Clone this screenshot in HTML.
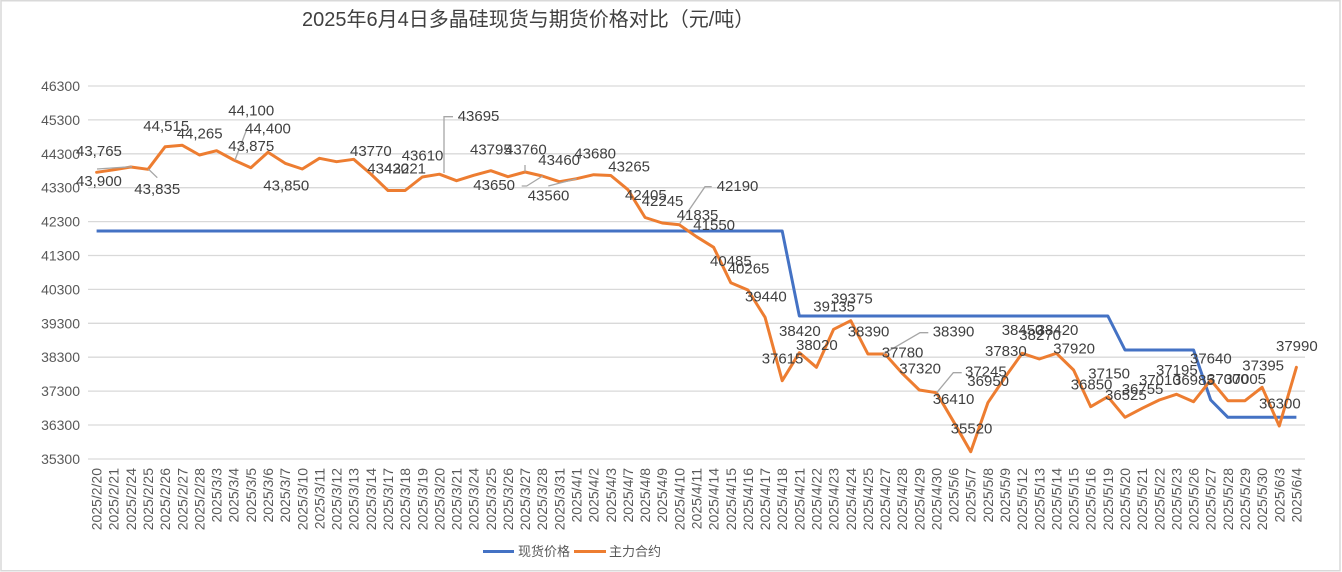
<!DOCTYPE html>
<html>
<head>
<meta charset="utf-8">
<style>
html,body{margin:0;padding:0;background:#fff;}
body{width:1342px;height:572px;overflow:hidden;}
svg{display:block;}
.lbl{font-family:"Liberation Sans","Noto Sans CJK SC",sans-serif;font-size:15px;fill:#404040;}
.yl{font-family:"Liberation Sans",sans-serif;font-size:14px;fill:#595959;}
.xl{font-family:"Liberation Sans",sans-serif;font-size:14px;fill:#595959;}
.ttl{font-family:"Liberation Sans","Noto Sans CJK SC",sans-serif;font-size:20px;fill:#404040;}
.lg{font-family:"Liberation Sans","Noto Sans CJK SC",sans-serif;font-size:13px;fill:#595959;}
</style>
</head>
<body>
<svg width="1342" height="572" viewBox="0 0 1342 572" xmlns="http://www.w3.org/2000/svg">
<rect x="1" y="0.75" width="1339" height="570" fill="#fff" stroke="#d9d9d9" stroke-width="1.5"/>
<text class="ttl" x="302" y="26">2025年6月4日多晶硅现货与期货价格对比（元/吨）</text>

<!-- gridlines -->
<g stroke="#d9d9d9" stroke-width="1.3">
<line x1="88" x2="1305" y1="86" y2="86"/>
<line x1="88" x2="1305" y1="119.9" y2="119.9"/>
<line x1="88" x2="1305" y1="153.8" y2="153.8"/>
<line x1="88" x2="1305" y1="187.7" y2="187.7"/>
<line x1="88" x2="1305" y1="221.6" y2="221.6"/>
<line x1="88" x2="1305" y1="255.5" y2="255.5"/>
<line x1="88" x2="1305" y1="289.4" y2="289.4"/>
<line x1="88" x2="1305" y1="323.3" y2="323.3"/>
<line x1="88" x2="1305" y1="357.2" y2="357.2"/>
<line x1="88" x2="1305" y1="391.1" y2="391.1"/>
<line x1="88" x2="1305" y1="425" y2="425"/>
<line x1="88" x2="1305" y1="459" y2="459"/>
</g>
<g class="yl" text-anchor="end">
<text x="80" y="91">46300</text>
<text x="80" y="124.9">45300</text>
<text x="80" y="158.8">44300</text>
<text x="80" y="192.7">43300</text>
<text x="80" y="226.6">42300</text>
<text x="80" y="260.5">41300</text>
<text x="80" y="294.4">40300</text>
<text x="80" y="328.3">39300</text>
<text x="80" y="362.2">38300</text>
<text x="80" y="396.1">37300</text>
<text x="80" y="430">36300</text>
<text x="80" y="464">35300</text>
</g>

<!-- x labels -->
<g class="xl" text-anchor="end">
<text transform="translate(101.6,468) rotate(-90)">2025/2/20</text>
<text transform="translate(118.74,468) rotate(-90)">2025/2/21</text>
<text transform="translate(135.88,468) rotate(-90)">2025/2/24</text>
<text transform="translate(153.02,468) rotate(-90)">2025/2/25</text>
<text transform="translate(170.16,468) rotate(-90)">2025/2/26</text>
<text transform="translate(187.3,468) rotate(-90)">2025/2/27</text>
<text transform="translate(204.44,468) rotate(-90)">2025/2/28</text>
<text transform="translate(221.58,468) rotate(-90)">2025/3/3</text>
<text transform="translate(238.72,468) rotate(-90)">2025/3/4</text>
<text transform="translate(255.86,468) rotate(-90)">2025/3/5</text>
<text transform="translate(273,468) rotate(-90)">2025/3/6</text>
<text transform="translate(290.14,468) rotate(-90)">2025/3/7</text>
<text transform="translate(307.28,468) rotate(-90)">2025/3/10</text>
<text transform="translate(324.42,468) rotate(-90)">2025/3/11</text>
<text transform="translate(341.56,468) rotate(-90)">2025/3/12</text>
<text transform="translate(358.7,468) rotate(-90)">2025/3/13</text>
<text transform="translate(375.84,468) rotate(-90)">2025/3/14</text>
<text transform="translate(392.98,468) rotate(-90)">2025/3/17</text>
<text transform="translate(410.12,468) rotate(-90)">2025/3/18</text>
<text transform="translate(427.26,468) rotate(-90)">2025/3/19</text>
<text transform="translate(444.4,468) rotate(-90)">2025/3/20</text>
<text transform="translate(461.54,468) rotate(-90)">2025/3/21</text>
<text transform="translate(478.68,468) rotate(-90)">2025/3/24</text>
<text transform="translate(495.82,468) rotate(-90)">2025/3/25</text>
<text transform="translate(512.96,468) rotate(-90)">2025/3/26</text>
<text transform="translate(530.1,468) rotate(-90)">2025/3/27</text>
<text transform="translate(547.24,468) rotate(-90)">2025/3/28</text>
<text transform="translate(564.38,468) rotate(-90)">2025/3/31</text>
<text transform="translate(581.52,468) rotate(-90)">2025/4/1</text>
<text transform="translate(598.66,468) rotate(-90)">2025/4/2</text>
<text transform="translate(615.8,468) rotate(-90)">2025/4/3</text>
<text transform="translate(632.94,468) rotate(-90)">2025/4/7</text>
<text transform="translate(650.08,468) rotate(-90)">2025/4/8</text>
<text transform="translate(667.22,468) rotate(-90)">2025/4/9</text>
<text transform="translate(684.36,468) rotate(-90)">2025/4/10</text>
<text transform="translate(701.5,468) rotate(-90)">2025/4/11</text>
<text transform="translate(718.64,468) rotate(-90)">2025/4/14</text>
<text transform="translate(735.78,468) rotate(-90)">2025/4/15</text>
<text transform="translate(752.92,468) rotate(-90)">2025/4/16</text>
<text transform="translate(770.06,468) rotate(-90)">2025/4/17</text>
<text transform="translate(787.2,468) rotate(-90)">2025/4/18</text>
<text transform="translate(804.34,468) rotate(-90)">2025/4/21</text>
<text transform="translate(821.48,468) rotate(-90)">2025/4/22</text>
<text transform="translate(838.62,468) rotate(-90)">2025/4/23</text>
<text transform="translate(855.76,468) rotate(-90)">2025/4/24</text>
<text transform="translate(872.9,468) rotate(-90)">2025/4/25</text>
<text transform="translate(890.04,468) rotate(-90)">2025/4/27</text>
<text transform="translate(907.18,468) rotate(-90)">2025/4/28</text>
<text transform="translate(924.32,468) rotate(-90)">2025/4/29</text>
<text transform="translate(941.46,468) rotate(-90)">2025/4/30</text>
<text transform="translate(958.6,468) rotate(-90)">2025/5/6</text>
<text transform="translate(975.74,468) rotate(-90)">2025/5/7</text>
<text transform="translate(992.88,468) rotate(-90)">2025/5/8</text>
<text transform="translate(1010.02,468) rotate(-90)">2025/5/9</text>
<text transform="translate(1027.16,468) rotate(-90)">2025/5/12</text>
<text transform="translate(1044.3,468) rotate(-90)">2025/5/13</text>
<text transform="translate(1061.44,468) rotate(-90)">2025/5/14</text>
<text transform="translate(1078.58,468) rotate(-90)">2025/5/15</text>
<text transform="translate(1095.72,468) rotate(-90)">2025/5/16</text>
<text transform="translate(1112.86,468) rotate(-90)">2025/5/19</text>
<text transform="translate(1130,468) rotate(-90)">2025/5/20</text>
<text transform="translate(1147.14,468) rotate(-90)">2025/5/21</text>
<text transform="translate(1164.28,468) rotate(-90)">2025/5/22</text>
<text transform="translate(1181.42,468) rotate(-90)">2025/5/23</text>
<text transform="translate(1198.56,468) rotate(-90)">2025/5/26</text>
<text transform="translate(1215.7,468) rotate(-90)">2025/5/27</text>
<text transform="translate(1232.84,468) rotate(-90)">2025/5/28</text>
<text transform="translate(1249.98,468) rotate(-90)">2025/5/29</text>
<text transform="translate(1267.12,468) rotate(-90)">2025/5/30</text>
<text transform="translate(1284.26,468) rotate(-90)">2025/6/3</text>
<text transform="translate(1301.4,468) rotate(-90)">2025/6/4</text>
</g>

<!-- series -->
<polyline fill="none" stroke="#4472C4" stroke-width="3" stroke-linejoin="round" points="96.6,231 782.2,231 799.34,316 1107.86,316 1125,350 1193.56,350 1210.7,400 1227.84,417.3 1296.4,417.3"/>
<polyline fill="none" stroke="#ED7D31" stroke-width="3" stroke-linejoin="round" stroke-linecap="round" points="96.6,172.3 113.74,169.8 130.88,167 148.02,169.3 165.16,146.7 182.3,145.3 199.44,155 216.58,150.7 233.72,160 250.86,167.7 268,152.3 285.14,163.3 302.28,169 319.42,158.3 336.56,161.7 353.7,159.3 370.84,174 387.98,190.5 405.12,190.5 422.26,177 439.4,174.2 456.54,180.7 473.68,175.3 490.82,170.7 507.96,176.7 525.1,172 542.24,176 559.38,181.7 576.52,178.7 593.66,174.7 610.8,175.5 627.94,189.7 645.08,217.5 662.22,223 679.36,224.8 696.5,236.7 713.64,247.3 730.78,282.7 747.92,290 765.06,317.3 782.2,380.7 799.34,352.7 816.48,367.3 833.62,329.3 850.76,320.7 867.9,354 885.04,354 902.18,373.3 919.32,390 936.46,392.7 953.6,421.7 970.74,451.7 987.88,402.7 1005.02,377.3 1022.16,353.3 1039.3,359 1056.44,353.3 1073.58,370 1090.72,406.7 1107.86,396.7 1125,417.3 1142.14,408.3 1159.28,400 1176.42,394.3 1193.56,401.7 1210.7,380 1227.84,400.7 1244.98,400.7 1262.12,387.3 1279.26,426 1296.4,367.3"/>

<!-- leader lines -->
<g fill="none" stroke="#a6a6a6" stroke-width="1.3">
<polyline points="97,169 132,166.7"/>
<polyline points="148.3,169 157.3,177.7"/>
<polyline points="235,160 246.7,129.5"/>
<polyline points="444,173 444,116.7 453,116.7"/>
<polyline points="525,165 525,171.7"/>
<polyline points="521.7,186 526.7,186 542.7,176"/>
<polyline points="548.3,186 576.7,178.7"/>
<polyline points="680,223.3 705,186.7 711.7,186.7"/>
<polyline points="883.3,354 920,332.7 928.3,332.7"/>
<polyline points="936.7,392.7 953.3,372.7 961.7,372.7"/>
</g>

<!-- data labels -->
<g class="lbl">
<text x="76" y="156">43,765</text>
<text x="76" y="186">43,900</text>
<text x="134.3" y="194">43,835</text>
<text x="143.3" y="131">44,515</text>
<text x="176.7" y="138.3">44,265</text>
<text x="228.3" y="115.7">44,100</text>
<text x="245" y="133.3">44,400</text>
<text x="228.3" y="151">43,875</text>
<text x="263.3" y="190.7">43,850</text>
<text x="350" y="156">43770</text>
<text x="367.3" y="173.3">43420</text>
<text x="384.3" y="173.3">43221</text>
<text x="401.7" y="160.7">43610</text>
<text x="457.7" y="121">43695</text>
<text x="470" y="154.3">43795</text>
<text x="505" y="154.3">43760</text>
<text x="538.3" y="165">43460</text>
<text x="574.3" y="158.3">43680</text>
<text x="473.3" y="190">43650</text>
<text x="527.7" y="200.7">43560</text>
<text x="608.3" y="171.7">43265</text>
<text x="625" y="200">42405</text>
<text x="641.7" y="206">42245</text>
<text x="716.7" y="191">42190</text>
<text x="676.7" y="220">41835</text>
<text x="693.3" y="230">41550</text>
<text x="710" y="266">40485</text>
<text x="727.7" y="273.3">40265</text>
<text x="745" y="301.7">39440</text>
<text x="761.7" y="363.3">37615</text>
<text x="779" y="336">38420</text>
<text x="796" y="350">38020</text>
<text x="813.3" y="311.7">39135</text>
<text x="831" y="303.3">39375</text>
<text x="847.7" y="336.7">38390</text>
<text x="932.7" y="336.7">38390</text>
<text x="881.7" y="357.3">37780</text>
<text x="899.3" y="373.3">37320</text>
<text x="965" y="376.7">37245</text>
<text x="967.3" y="386">36950</text>
<text x="932.7" y="404">36410</text>
<text x="950.7" y="433.3">35520</text>
<text x="985" y="356">37830</text>
<text x="1001.7" y="335">38450</text>
<text x="1019.3" y="340">38270</text>
<text x="1036.7" y="335">38420</text>
<text x="1053.3" y="353.3">37920</text>
<text x="1070.7" y="389.3">36850</text>
<text x="1088.3" y="378.3">37150</text>
<text x="1105" y="400">36525</text>
<text x="1121.7" y="394">36755</text>
<text x="1139" y="385">37010</text>
<text x="1156" y="375">37195</text>
<text x="1173" y="385">36985</text>
<text x="1190" y="363.3">37640</text>
<text x="1207" y="384">37000</text>
<text x="1224.3" y="384">37005</text>
<text x="1242.3" y="370.7">37395</text>
<text x="1259" y="408.3">36300</text>
<text x="1276" y="351">37990</text>
</g>

<!-- legend -->
<line x1="483" y1="551.5" x2="514" y2="551.5" stroke="#4472C4" stroke-width="3"/>
<text class="lg" x="518" y="556">现货价格</text>
<line x1="574" y1="551.5" x2="606" y2="551.5" stroke="#ED7D31" stroke-width="3"/>
<text class="lg" x="609" y="556">主力合约</text>
</svg>
</body>
</html>
